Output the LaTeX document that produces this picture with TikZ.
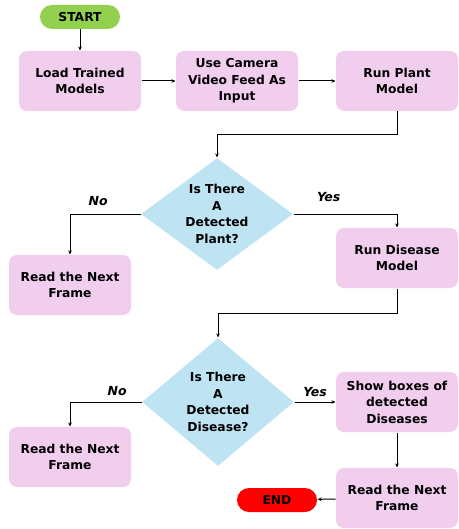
\documentclass[tikz,border=0pt]{standalone}
\usepackage{fontspec}
\setmainfont{DejaVu Sans}
\usepackage{xcolor}
\usetikzlibrary{shapes.geometric,arrows.meta,positioning}

\definecolor{boxpink}{RGB}{242,206,238}
\definecolor{askblue}{RGB}{190,228,244}
\definecolor{startgreen}{RGB}{146,208,80}
\definecolor{endred}{RGB}{255,0,0}

\begin{document}
\begin{tikzpicture}[x=1pt, y=-1pt, line width=1pt, >={Stealth[length=4pt,width=3.5pt]},
	every node/.style = {font=\bfseries\fontsize{12.3}{16.5}\selectfont, align=center},
	proc/.style = {fill=boxpink, rounded corners=8pt, minimum width=122pt, minimum height=60pt, inner sep=2pt},
	ask/.style = {diamond, fill=askblue, minimum width=152pt, minimum height=112pt, inner sep=-12pt, aspect=1.36},
	term/.style = {rounded corners=12pt, minimum width=80pt, minimum height=24pt, inner sep=0pt},
	lbl/.style = {font=\bfseries\itshape\fontsize{12.5}{14}\selectfont}]
	\useasboundingbox (0,0) rectangle (458,529);

	\node[term, fill=startgreen] (start) at (80,17) {START};
	\node[proc] (load) at (80,81) {Load Trained\\Models};
	\node[proc] (cam) at (237,81) {Use Camera\\Video Feed As\\Input};
	\node[proc] (plant) at (397,81) {Run Plant\\Model};
	\node[ask] (isplant) at (217,214) {Is There\\A\\Detected\\Plant?};
	\node[proc] (skip1) at (70,285) {Read the Next\\Frame};
	\node[proc] (disease) at (397,258) {Run Disease\\Model};
	\node[ask, minimum height=128pt] (isdis) at (218,402) {Is There\\A\\Detected\\Disease?};
	\node[proc] (skip2) at (70,457) {Read the Next\\Frame};
	\node[proc] (show) at (397,402) {Show boxes of\\detected\\Diseases};
	\node[proc] (next) at (397,498) {Read the Next\\Frame};
	\node[term, fill=endred] (stop) at (277,500) {END};

	\draw[->] (start) -- (load);
	\draw[->] (load) -- (cam);
	\draw[->] (cam) -- (plant);
	\draw[->] (plant.south) -- ++(0,23) -| (isplant.north);
	\draw[->] (isplant.west) -| node[lbl, pos=0.3, above=4pt] {No} (skip1.north);
	\draw[->] (isplant.east) -| node[lbl, pos=0.17, above=8pt] {Yes} (disease.north);
	\draw[->] (disease.south) -- ++(0,25) -| (isdis.north);
	\draw[->] (isdis.west) -| node[lbl, pos=0.17, above=2pt] {No} (skip2.north);
	\draw[->] (isdis.east) -- node[lbl, midway, above=1pt] {Yes} (show.west);
	\draw[->] (show) -- (next);
	\draw[->] (next) -- (stop);
\end{tikzpicture}
\end{document}
